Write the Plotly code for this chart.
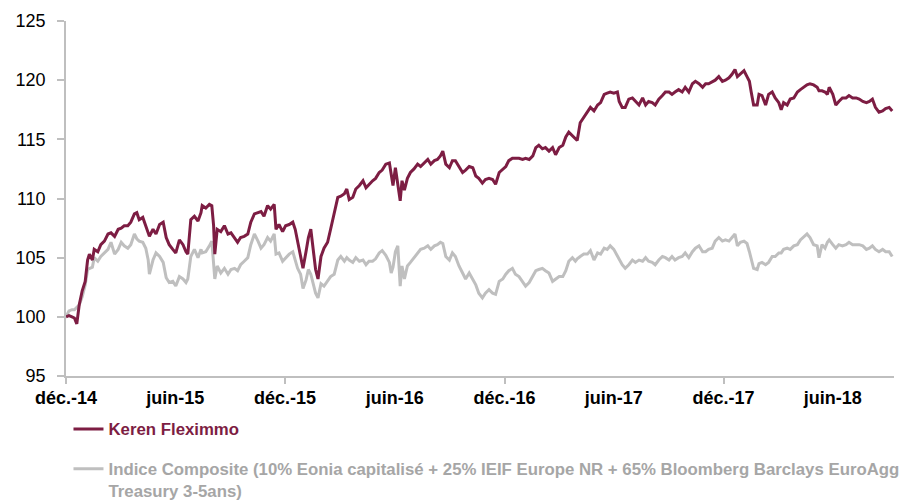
import plotly.graph_objects as go
from datetime import date, timedelta

# Jours écoulés depuis le 1er décembre 2014
jours = [0,5,10,14,18,22,27,32,36,39,44,47,53,58,64,70,75,81,87,92,97,103,108,114,118,122,128,133,137,139,
         145,150,156,162,167,172,178,183,189,195,200,203,208,214,220,225,
         227,233,239,243,246,248,252,258,264,270,275,281,286,291,297,303,308,314,320,325,
         330,336,341,347,350,355,361,366,372,378,382,386,391,395,400,404,408,412,416,420,425,430,436,441,447,
         453,458,464,468,472,478,483,489,495,500,505,511,516,522,527,533,539,542,545,549,
         553,557,560,564,569,574,580,586,591,597,603,608,614,619,624,628,633,639,644,649,655,661,666,672,
         678,683,688,694,699,705,711,716,722,728,733,738,744,749,755,761,766,772,778,783,
         788,794,799,805,811,816,822,828,833,838,844,849,852,857,863,869,874,880,886,891,897,
         902,907,913,919,922,927,932,938,944,949,955,961,966,971,977,982,988,994,999,1005,
         1010,1015,1021,1027,1032,1038,1044,1049,1055,1061,1066,1071,1077,1082,1088,1094,1099,1105,1110,1115,
         1119,1124,1130,1135,1139,
         1142,1146,1152,1155,1160,1166,1171,1177,1182,1188,1192,1196,1202,1207,1213,1219,1224,1229,1235,1240,
         1246,1252,1255,1260,1265,1269,1272,1278,1283,1288,1294,1300,1305,1311,1317,1322,1328,1334,1339,1344,
         1349,1355,1361,1366,1372,1377]

keren = [100.0,100.1,100.0,99.9,99.4,101.0,102.2,103.0,104.8,105.3,104.8,105.7,105.5,106.1,106.4,107.0,107.1,106.8,107.4,107.5,
         107.7,107.7,108.0,108.7,108.8,108.2,108.4,107.7,107.0,106.8,107.4,107.0,107.8,108.0,106.7,106.1,105.7,105.4,106.5,106.1,
         105.5,105.3,108.2,108.5,108.1,108.8,
         109.4,109.2,109.5,109.4,107.7,105.3,107.4,107.2,107.7,107.0,107.1,106.7,106.3,106.7,106.8,107.0,108.0,108.7,108.8,108.9,
         108.5,109.4,109.1,109.5,107.4,107.8,107.2,107.7,107.8,108.0,107.4,106.4,105.3,104.1,105.5,106.7,107.4,105.7,104.0,103.2,
         105.1,105.8,106.3,107.4,108.8,
         110.1,110.2,110.4,110.8,109.9,110.1,110.8,111.1,111.5,110.9,111.2,111.5,111.7,112.2,112.4,112.9,113.0,111.9,111.1,112.6,
         111.3,109.8,111.5,110.7,111.7,112.2,112.5,112.9,112.7,113.0,113.3,112.9,113.2,113.3,113.6,114.0,112.9,112.6,113.2,113.2,
         112.7,112.2,112.4,112.7,
         112.6,111.9,111.7,111.3,111.6,111.7,111.6,111.2,112.2,112.5,112.7,113.2,113.4,113.4,113.4,113.3,113.4,113.3,113.6,114.3,
         114.5,114.2,114.3,114.0,114.3,113.7,114.3,114.5,115.2,115.6,115.3,115.0,114.9,116.4,116.9,117.4,117.7,117.4,117.9,118.1,
         118.8,
         118.9,119.0,118.9,119.0,118.2,117.7,117.7,118.4,118.5,118.2,117.9,118.5,117.9,118.2,118.1,117.9,118.4,118.7,119.0,119.0,
         118.8,119.0,119.2,119.0,119.4,119.0,119.7,119.9,119.7,119.4,119.7,119.7,119.9,120.0,120.3,119.9,120.0,120.2,120.5,120.9,
         120.3,120.5,120.8,120.3,119.9,
         119.0,117.9,117.9,118.8,118.7,117.9,118.8,119.0,118.5,118.1,117.5,118.1,117.9,118.4,118.5,119.0,119.2,119.4,119.6,119.7,
         119.6,119.4,119.1,119.1,119.0,118.8,119.4,118.8,117.9,118.2,118.5,118.5,118.7,118.5,118.5,118.4,118.2,118.1,118.2,118.4,
         117.7,117.3,117.4,117.6,117.7,117.4]

indice = [100.0,100.5,100.6,100.6,100.8,101.0,101.7,102.7,104.0,104.1,104.2,105.0,104.7,105.1,105.4,105.7,106.3,105.3,105.7,106.3,
          106.0,105.8,106.1,107.0,106.6,106.4,106.3,105.8,104.8,103.6,104.8,105.4,105.1,104.6,103.3,102.9,103.0,102.6,103.4,103.2,
          102.9,103.2,105.1,105.7,105.0,105.7,
          105.4,105.5,106.0,106.4,104.5,103.2,104.3,103.7,104.1,103.6,104.0,104.1,103.9,104.4,104.7,105.0,106.1,107.0,106.4,105.8,
          106.1,106.7,106.4,107.0,105.3,105.4,104.7,105.0,105.3,105.5,104.8,104.1,103.6,102.4,103.1,104.0,103.6,102.8,102.0,101.6,
          102.8,102.6,103.1,103.4,103.6,
          104.8,105.1,104.7,105.0,104.8,104.6,105.0,104.7,104.8,104.4,104.7,104.7,104.9,105.4,105.6,105.2,104.6,103.7,104.2,105.5,
          106.0,102.6,104.3,103.2,104.3,104.6,105.0,105.4,105.7,105.8,106.0,105.7,106.0,106.1,106.3,106.2,105.1,104.8,105.4,105.1,
          104.3,103.7,103.2,103.7,
          103.2,102.7,102.0,101.6,102.0,102.3,102.0,101.9,103.0,103.2,103.6,103.9,104.1,103.6,103.4,102.9,102.6,102.9,103.4,103.9,
          104.0,104.1,103.9,103.7,103.0,103.2,103.4,103.4,103.9,104.7,105.0,104.7,104.9,105.1,105.3,105.3,105.6,104.8,105.4,105.3,
          105.8,
          105.7,106.0,105.7,105.1,104.9,104.4,104.1,104.4,104.8,104.6,104.8,104.7,105.0,104.7,104.6,104.4,104.8,105.1,105.0,104.8,
          105.1,104.8,105.0,105.1,105.4,105.0,105.5,105.8,106.0,105.5,105.5,105.7,105.8,106.4,106.7,106.4,106.5,106.4,106.7,107.0,
          106.0,106.3,106.4,106.2,105.5,
          104.8,104.1,104.0,104.5,104.6,104.4,104.6,105.1,105.1,105.4,105.4,105.7,105.8,105.7,106.0,106.1,106.5,106.7,107.0,106.7,
          106.1,106.0,105.0,106.1,105.8,106.3,106.5,106.1,105.8,106.1,106.0,106.1,106.3,106.1,106.1,106.1,106.0,105.7,105.8,106.0,
          105.7,105.5,105.7,105.5,105.5,105.1]

tick_dates = ["2014-12-01", "2015-06-01", "2015-12-01", "2016-06-01", "2016-12-01",
              "2017-06-01", "2017-12-01", "2018-06-01"]
tick_labels = ["déc.-14", "juin-15", "déc.-15", "juin-16", "déc.-16", "juin-17", "déc.-17", "juin-18"]
dec_dates = ["2014-12-01", "2015-12-01", "2016-12-01", "2017-12-01"]

nom_keren = "Keren Fleximmo"
nom_indice = "Indice Composite (10% Eonia capitalisé + 25% IEIF Europe NR + 65% Bloomberg Barclays EuroAgg<br>Treasury 3-5ans)"

MAROON = "#7D1D43"
GRAY = "#BFBFBF"

debut = date(2014, 12, 1)
dates = [debut + timedelta(days=j) for j in jours]

fig = go.Figure()
fig.add_trace(go.Scatter(
    x=dates, y=indice, mode="lines", line=dict(color=GRAY, width=3),
    name=f"<span style='color:#A6A6A6'><b>{nom_indice}</b></span>",
    legendgroup="b", legendrank=2))
fig.add_trace(go.Scatter(
    x=dates, y=keren, mode="lines", line=dict(color=MAROON, width=3),
    name=f"<span style='color:{MAROON}'><b>{nom_keren}</b></span>",
    legendgroup="a", legendrank=1))

FONT = "Liberation Sans, Arial, sans-serif"
fig.update_layout(
    width=910, height=504,
    margin=dict(l=66, r=16, t=21, b=128, autoexpand=False),
    plot_bgcolor="white", paper_bgcolor="white",
    font=dict(family=FONT, size=18, color="black"),
    showlegend=True,
    legend=dict(x=0.003, xanchor="left", y=-0.1, yanchor="top", orientation="v",
                font=dict(family=FONT, size=16.8, color="#A6A6A6"),
                tracegroupgap=15, valign="top", bgcolor="rgba(0,0,0,0)"),
    xaxis=dict(
        type="date", range=["2014-12-01", "2018-09-11"], automargin=False,
        tickmode="array", tickvals=tick_dates, ticktext=tick_labels,
        ticks="", showgrid=False, zeroline=False, ticklabelstandoff=5,
        showline=True, linecolor=GRAY, linewidth=1.5,
        tickfont=dict(family=FONT, size=18, color="black", weight="bold"),
        minor=dict(tickmode="array", tickvals=dec_dates, ticks="outside",
                   ticklen=6, tickcolor=GRAY, tickwidth=1.5, showgrid=False),
    ),
    yaxis=dict(
        range=[95, 125], tickmode="linear", tick0=95, dtick=5, automargin=False,
        ticks="outside", ticklen=7, tickcolor=GRAY, tickwidth=1.5,
        showgrid=False, zeroline=False, ticklabelstandoff=8,
        showline=True, linecolor=GRAY, linewidth=1.5,
        tickfont=dict(family=FONT, size=18, color="black"),
    ),
)

fig.write_html("out.html", config={"displayModeBar": False},
               post_script="document.body.style.margin='0';")
